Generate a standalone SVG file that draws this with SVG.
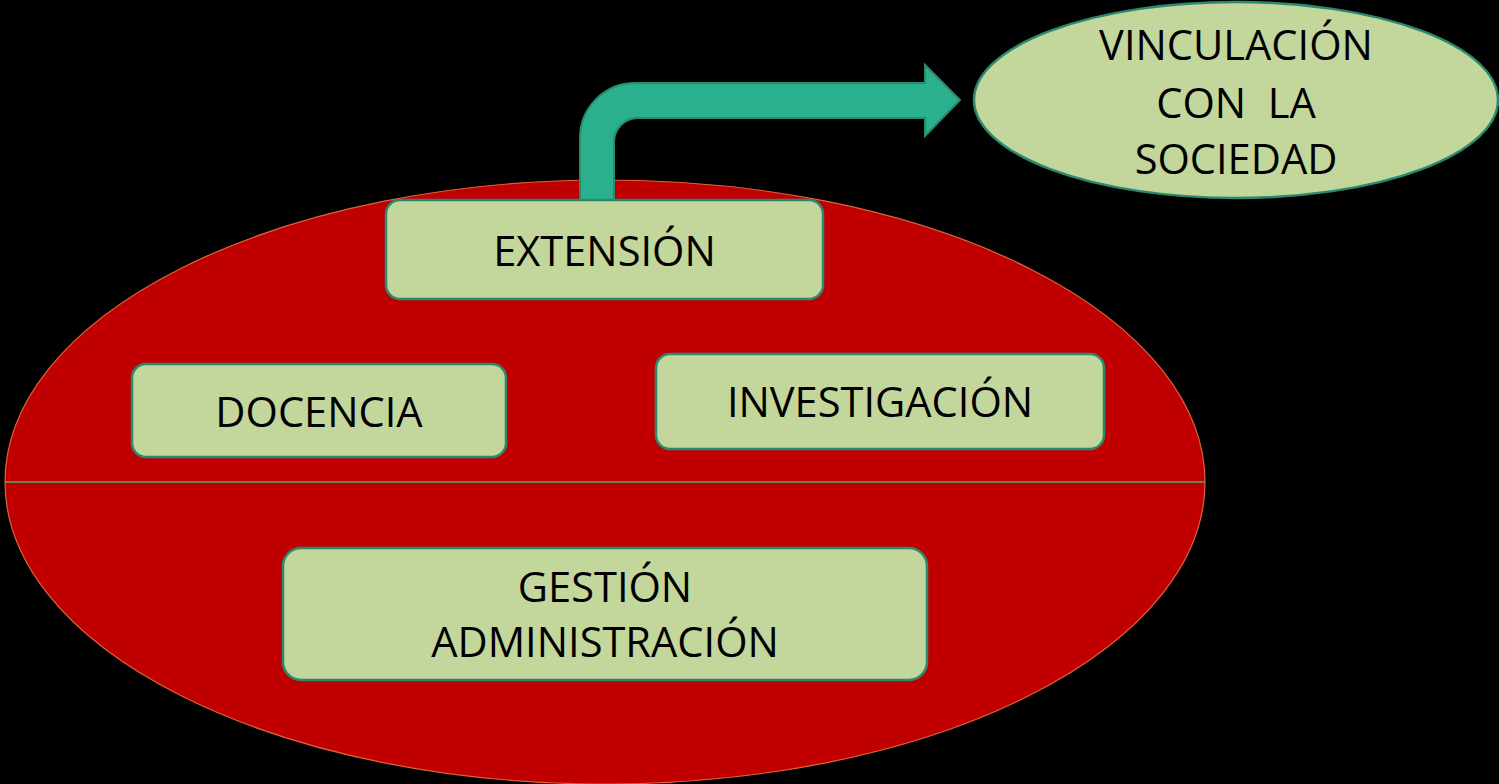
<svg xmlns="http://www.w3.org/2000/svg" width="1499" height="784" viewBox="0 0 1499 784">
<style>
.box{fill:#C3D69B;stroke:#2A8A6E;stroke-width:2.5}
.t{font-family:"Open Sans","Liberation Sans",sans-serif;font-size:41.6px;fill:#000;text-anchor:middle}
</style>
<rect width="1499" height="784" fill="#000"/>
<g id="base">
<ellipse cx="605" cy="482" rx="600" ry="302" fill="#C00000" stroke="#E0623A" stroke-width="1.2"/>
<line x1="5" y1="482" x2="1205" y2="482" stroke="#6F7F55" stroke-width="2"/>
</g>
<g id="connectors">
<path d="M580,200 L580,138 A55,55 0 0 1 635,83 L925,83 L925,65 L960,100 L925,136 L925,118 L638,118 A24,24 0 0 0 614,142 L614,200 Z" fill="#2BB08E" stroke="#2A8A6E" stroke-width="2"/>
</g>
<g id="vinculacion">
<ellipse cx="1236" cy="100" rx="262" ry="98" class="box"/>
<text class="t" x="1236" y="60">VINCULACIÓN</text>
<text class="t" x="1236" y="118" xml:space="preserve">CON  LA</text>
<text class="t" x="1236" y="174">SOCIEDAD</text>
</g>
<g id="extension">
<rect x="386" y="200" width="437" height="99" rx="14" class="box"/>
<text class="t" x="604.5" y="266">EXTENSIÓN</text>
</g>
<g id="docencia">
<rect x="132" y="364" width="374" height="93" rx="14" class="box"/>
<text class="t" x="319" y="427">DOCENCIA</text>
</g>
<g id="investigacion">
<rect x="656" y="354" width="448" height="95" rx="14" class="box"/>
<text class="t" x="880" y="417">INVESTIGACIÓN</text>
</g>
<g id="gestion">
<rect x="283" y="548" width="644" height="132" rx="18" class="box"/>
<text class="t" x="605" y="602">GESTIÓN</text>
<text class="t" x="605" y="657">ADMINISTRACIÓN</text>
</g>
</svg>
